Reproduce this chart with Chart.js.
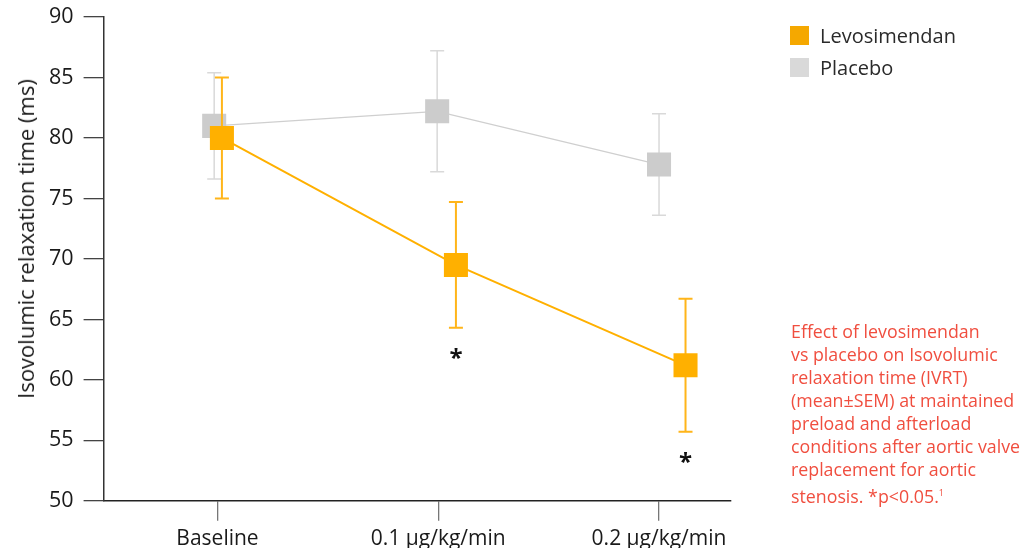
<!DOCTYPE html>
<html lang="en">
<head>
    <meta charset="UTF-8" />
    <title>IVRT - Levosimendan vs Placebo</title>
    <script src="https://cdn.jsdelivr.net/npm/chart.js"></script>
    <style>
        body { margin: 0; background: #fff; font-family: 'Open Sans', sans-serif; }
        #wrap { position: relative; width: 1021px; height: 548px; }
        #ytitle { position: absolute; left: 25px; top: 239px; transform: translate(-50%, -50%) rotate(-90deg);
                  white-space: nowrap; font-size: 22px; color: #1a1a1a; }
        #legend { position: absolute; left: 790px; top: 19px; font-size: 20px; color: #2a2a2a; }
        #legend div { display: flex; align-items: center; height: 32px; }
        #legend span { display: inline-block; width: 19px; height: 19px; margin-right: 11px; }
        #note { position: absolute; left: 791px; top: 320px; font-size: 17.8px; line-height: 23px; color: #f04e3f; }
        #note sup { font-size: 9px; vertical-align: 7px; }
    </style>
</head>
<body>

<div id="wrap">
    <canvas id="grafico"></canvas>

    <div id="ytitle">Isovolumic relaxation time (ms)</div>

    <!-- Legend -->
    <div id="legend">
        <div><span style="background:#f5a800"></span>Levosimendan</div>
        <div><span style="background:#d9d9d9"></span>Placebo</div>
    </div>

    <!-- Note -->
    <div id="note">
        Effect of levosimendan<br>
        vs placebo on Isovolumic<br>
        relaxation time (IVRT)<br>
        (mean±SEM) at maintained<br>
        preload and afterload<br>
        conditions after aortic valve<br>
        replacement for aortic<br>
        stenosis. *p&lt;0.05.<sup>1</sup>
    </div>
</div>

<script>
    // === Data ===
    const categories = ["Baseline", "0.1 µg/kg/min", "0.2 µg/kg/min"];
    const yTicks = [50, 55, 60, 65, 70, 75, 80, 85, 90];

    const levoX = [0.02, 1.08, 2.12];
    const levoMean = [80.0, 69.5, 61.2];
    const levoSem = [5.0, 5.2, 5.5];

    const placeboX = [-0.015, 0.995, 2.0];
    const placeboMean = [81.0, 82.2, 77.8];
    const placeboSem = [4.4, 5.0, 4.2];

    const significant = [false, true, true];

    const toPoints = (xs, ys) => xs.map((x, i) => ({ x: x, y: ys[i] }));

    // error bars drawn under each dataset's squares
    const errorBars = {
        id: "errorBars",
        beforeDatasetDraw(chart, args) {
            const ds = chart.data.datasets[args.index];
            const sx = chart.scales.x, sy = chart.scales.y;
            const ctx = chart.ctx;
            ctx.save();
            ctx.strokeStyle = ds.errColor;
            ctx.lineWidth = ds.errWidth;
            ds.sem.forEach((s, i) => {
                const p = ds.data[i];
                const px = sx.getPixelForValue(p.x);
                const top = sy.getPixelForValue(p.y + s);
                const bot = sy.getPixelForValue(p.y - s);
                ctx.beginPath();
                ctx.moveTo(px, top); ctx.lineTo(px, bot);
                ctx.moveTo(px - 7, top); ctx.lineTo(px + 7, top);
                ctx.moveTo(px - 7, bot); ctx.lineTo(px + 7, bot);
                ctx.stroke();
            });
            ctx.restore();
        }
    };

    // asterisks below levosimendan error bars
    const asterisks = {
        id: "asterisks",
        afterDatasetsDraw(chart) {
            const ds = chart.data.datasets[0];
            const sx = chart.scales.x, sy = chart.scales.y;
            const ctx = chart.ctx;
            ctx.save();
            ctx.fillStyle = "#111";
            ctx.font = "bold 24px 'Open Sans'";
            ctx.textAlign = "center";
            ctx.textBaseline = "alphabetic";
            significant.forEach((sig, i) => {
                if (!sig) return;
                const p = ds.data[i];
                const px = sx.getPixelForValue(p.x);
                const bot = sy.getPixelForValue(p.y - ds.sem[i]);
                ctx.fillText("*", px, bot + 38);
            });
            ctx.restore();
        }
    };

    new Chart(document.getElementById("grafico"), {
        type: "line",
        data: {
            datasets: [
                {
                    label: "Levosimendan",
                    data: toPoints(levoX, levoMean),
                    sem: levoSem,
                    errColor: "#ffb51a",
                    errWidth: 2,
                    borderColor: "#ffb000",
                    borderWidth: 2,
                    backgroundColor: "#ffb000",
                    pointStyle: "rect",
                    pointRadius: 17,
                    pointBorderWidth: 0,
                    pointBackgroundColor: "#ffb000"
                },
                {
                    label: "Placebo",
                    data: toPoints(placeboX, placeboMean),
                    sem: placeboSem,
                    errColor: "#d9d9d9",
                    errWidth: 1.5,
                    borderColor: "#cfcfcf",
                    borderWidth: 1.2,
                    backgroundColor: "#cccccc",
                    pointStyle: "rect",
                    pointRadius: 17,
                    pointBorderWidth: 0,
                    pointBackgroundColor: "#cccccc"
                }
            ]
        },
        options: {
            responsive: true,
            maintainAspectRatio: false,
            animation: false,
            layout: { padding: { left: 39, top: -1, right: 290, bottom: -10 } },
            plugins: {
                legend: { display: false },
                tooltip: { enabled: false }
            },
            scales: {
                x: {
                    type: "linear",
                    min: -0.516,
                    max: 2.326,
                    afterBuildTicks: axis => { axis.ticks = categories.map((c, i) => ({ value: i })); },
                    ticks: {
                        callback: v => categories[v],
                        font: { family: "'Open Sans'", size: 21 },
                        color: "#1a1a1a",
                        padding: 6,
                        maxRotation: 0
                    },
                    grid: { drawOnChartArea: false, tickLength: 20, color: "#777", lineWidth: 1.3 },
                    border: { display: true, color: "#222", width: 1.5 }
                },
                y: {
                    min: 50,
                    max: 90,
                    afterBuildTicks: axis => { axis.ticks = yTicks.map(v => ({ value: v })); },
                    ticks: {
                        font: { family: "'Open Sans'", size: 21.5, lineHeight: 0.55 },
                        color: "#1a1a1a",
                        padding: 10
                    },
                    grid: { drawOnChartArea: false, tickLength: 20, color: "#444", lineWidth: 1.3 },
                    border: { display: true, color: "#333", width: 1.5 }
                }
            }
        },
        plugins: [errorBars, asterisks]
    });
</script>
</body>
</html>
